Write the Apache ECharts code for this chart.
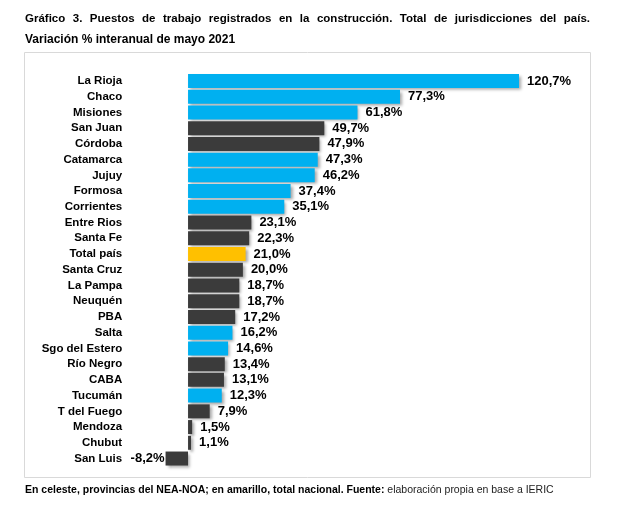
<!DOCTYPE html>
<html><head><meta charset="utf-8">
<script src="https://cdn.jsdelivr.net/npm/echarts@6/dist/echarts.min.js"></script>
<style>html,body{margin:0;padding:0;background:#fff}#c{width:631px;height:531px}</style>
</head><body><div id="c"></div>
<script>
const categories = ["La Rioja","Chaco","Misiones","San Juan","Córdoba","Catamarca","Jujuy","Formosa","Corrientes","Entre Rios","Santa Fe","Total país","Santa Cruz","La Pampa","Neuquén","PBA","Salta","Sgo del Estero","Río Negro","CABA","Tucumán","T del Fuego","Mendoza","Chubut","San Luis"];
const values = [120.7,77.3,61.8,49.7,47.9,47.3,46.2,37.4,35.1,23.1,22.3,21.0,20.0,18.7,18.7,17.2,16.2,14.6,13.4,13.1,12.3,7.9,1.5,1.1,-8.2];
const groups = ["N","N","N","O","O","N","N","N","N","O","O","T","O","O","O","O","N","N","O","O","N","O","O","O","O"];
const colors = {N:"#00B0F0", O:"#3B3B3B", T:"#FFC000"};
const titleLine1 = "Gráfico 3. Puestos de trabajo registrados en la construcción. Total de jurisdicciones del país.";
const titleLine2 = "Variación % interanual de mayo 2021";

const font = "Liberation Sans, Arial, sans-serif";
// justified first title line: spread words between x=25 and x=590
const tFont = 'bold 11.5px ' + font;
const ctx = document.createElement('canvas').getContext('2d');
ctx.font = tFont;
const words = titleLine1.split(' ');
const widths = words.map(w => ctx.measureText(w).width);
const total = widths.reduce((a,b)=>a+b,0);
const gap = (565 - total) / (words.length - 1);
const titleWords = [];
let xx = 25;
words.forEach((w,i) => {
  titleWords.push({type:'text', x:xx, y:12.5, style:{text:w, font:tFont, fill:'#000'}});
  xx += widths[i] + gap;
});

const chart = echarts.init(document.getElementById('c'), null, {renderer:'canvas'});
chart.setOption({
  animation:false,
  textStyle:{fontFamily:font},
  graphic:[
    {type:'rect', shape:{x:24.5,y:52.5,width:566,height:425}, style:{fill:'none',stroke:'#d9d9d9',lineWidth:1}, z:-1},
    ...titleWords,
    {type:'text', left:25, top:33.5, style:{text:titleLine2, font:'bold 12px '+font, fill:'#000'}},
    {type:'text', left:25, top:485, style:{text:'{b|En celeste, provincias del NEA-NOA; en amarillo, total nacional. Fuente:}{n| elaboración propia en base a IERIC}', rich:{b:{font:'bold 10.5px '+font, fill:'#000'}, n:{font:'10.5px '+font, fill:'#222'}}}}
  ],
  grid:{left:133.2, width:411.3, top:73.1, height:393.3, containLabel:false},
  xAxis:{type:'value', min:-20, max:130, show:false},
  yAxis:{type:'category', data:categories, inverse:true,
    axisLine:{show:false}, axisTick:{show:false},
    axisLabel:{margin:11, color:'#000', fontWeight:'bold', fontSize:11.5, fontFamily:font}},
  series:[{type:'bar', barCategoryGap:'11%',
    data: values.map((v,i)=>({value:v, itemStyle:{color:colors[groups[i]]},
      label:{position: v<0 ? 'left' : 'right', distance: v<0 ? 1 : 8}})),
    itemStyle:{shadowBlur:3, shadowOffsetX:2, shadowOffsetY:2, shadowColor:'rgba(0,0,0,0.35)'},
    label:{show:true, color:'#000', fontWeight:'bold', fontSize:13, fontFamily:font,
      formatter:p=>p.value.toFixed(1).replace('.',',')+'%'}
  }]
});
</script></body></html>
